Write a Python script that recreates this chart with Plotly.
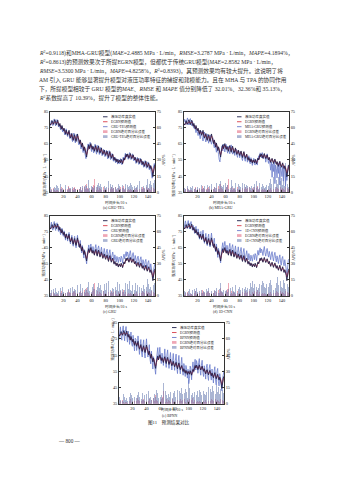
import plotly.graph_objects as go

W, H = 339, 480

time_step = list(range(1, 151))

true_power = [
    77.5, 76.8, 78.2, 79.5, 78.0, 77.2, 79.0, 80.1, 78.4, 77.0,
    78.6, 79.8, 77.5, 76.0, 77.8, 75.4, 74.2, 76.5, 75.0, 73.2,
    74.8, 72.5, 71.0, 73.6, 72.2, 70.4, 71.8, 73.5, 70.2, 68.6,
    69.8, 71.5, 68.4, 67.2, 69.6, 70.8, 68.0, 66.5, 68.8, 71.2,
    69.0, 66.8, 65.2, 67.5, 64.8, 63.0, 65.6, 62.4, 60.8, 63.2,
    61.5, 58.2, 56.8, 60.5, 62.8, 64.5, 62.0, 63.8, 65.2, 63.0,
    61.6, 63.5, 62.2, 60.4, 62.8, 64.0, 61.5, 59.8, 62.4, 63.6,
    61.0, 59.2, 60.8, 62.5, 60.0, 58.4, 59.6, 61.2, 59.0, 57.8,
    59.4, 60.6, 58.2, 56.5, 58.8, 60.2, 57.6, 56.0, 57.4, 58.6,
    56.2, 54.8, 56.6, 55.2, 53.8, 55.6, 54.2, 53.0, 55.0, 54.4,
    53.2, 55.4, 54.0, 52.6, 54.8, 56.2, 55.0, 57.4, 58.6, 57.0,
    58.8, 57.6, 56.0, 57.8, 59.0, 57.2, 55.8, 57.0, 58.2, 56.4,
    55.0, 56.6, 54.8, 53.4, 55.2, 56.0, 54.2, 52.8, 54.4, 55.6,
    53.6, 52.2, 54.0, 52.6, 51.0, 52.8, 54.2, 51.8, 50.4, 52.0,
    53.2, 51.0, 49.6, 51.4, 50.2, 47.8, 44.5, 48.6, 50.8, 52.0,
]

egrn_pred = [
    76.8, 77.2, 77.6, 78.4, 78.2, 77.6, 78.2, 79.0, 78.6, 77.6,
    78.0, 78.8, 77.8, 76.6, 77.0, 75.8, 74.8, 75.6, 75.0, 73.8,
    74.2, 73.0, 71.8, 72.8, 72.4, 71.0, 71.4, 72.6, 70.8, 69.4,
    69.6, 70.8, 69.0, 67.8, 68.8, 70.0, 68.6, 67.2, 68.2, 70.2,
    69.2, 67.4, 66.0, 66.8, 65.2, 63.8, 64.8, 63.0, 61.6, 62.6,
    61.8, 59.4, 58.2, 60.0, 62.0, 63.6, 62.4, 63.2, 64.4, 63.2,
    62.0, 63.0, 62.4, 61.0, 62.2, 63.4, 62.0, 60.6, 61.8, 62.8,
    61.4, 60.0, 60.6, 61.8, 60.4, 59.0, 59.4, 60.6, 59.4, 58.4,
    59.0, 60.0, 58.6, 57.2, 58.2, 59.6, 58.0, 56.8, 57.2, 58.2,
    56.6, 55.4, 56.0, 55.4, 54.4, 55.2, 54.6, 53.6, 54.6, 54.4,
    53.6, 54.8, 54.2, 53.0, 54.2, 55.6, 55.2, 56.8, 58.0, 57.2,
    58.2, 57.6, 56.4, 57.2, 58.4, 57.4, 56.2, 56.8, 57.8, 56.6,
    55.4, 56.0, 55.0, 53.8, 54.8, 55.6, 54.6, 53.4, 54.0, 55.0,
    54.0, 52.8, 53.6, 52.8, 51.6, 52.4, 53.6, 52.2, 50.8, 51.6,
    52.6, 51.4, 50.2, 51.0, 50.4, 48.8, 46.8, 48.2, 50.0, 51.4,
]

egrn_ape = [
    2, 1, 3, 2, 1, 4, 2, 3, 1, 2, 3, 2, 1, 4, 2, 3, 5, 2, 1, 3, 2, 4, 3, 1, 2, 3, 6, 2, 4, 3,
    2, 1, 3, 4, 2, 5, 3, 2, 1, 3, 4, 2, 3, 5, 2, 1, 4, 3, 2, 6, 3, 5, 8, 4, 2, 3, 1, 2, 4, 3,
    5, 2, 7, 12, 4, 3, 2, 5, 3, 2, 4, 6, 3, 2, 1, 3, 5, 2, 4, 3, 2, 3, 6, 4, 2, 1, 3, 5, 2, 3,
    4, 2, 3, 5, 2, 3, 1, 4, 2, 3, 5, 3, 2, 4, 6, 3, 2, 4, 3, 5, 2, 3, 4, 2, 3, 5, 2, 1, 3, 4,
    3, 2, 5, 4, 2, 3, 6, 3, 2, 4, 3, 5, 2, 4, 3, 2, 4, 5, 3, 2, 4, 3, 6, 2, 5, 7, 9, 4, 3, 2,
]

model_names = ["GRU-TPA", "MHA-GRU", "GRU", "1D-CNN", "BPNN"]
captions = ["(a) GRU-TPA", "(b) MHA-GRU", "(c) GRU", "(d) 1D-CNN", "(e) BPNN"]

gru_tpa_pred = [
    75.8, 78.4, 79.6, 77.8, 76.4, 78.8, 80.6, 78.0, 76.2, 78.4,
    80.2, 78.0, 75.6, 77.4, 76.0, 73.8, 76.0, 74.2, 72.4, 74.6,
    73.0, 70.6, 72.8, 74.4, 70.8, 69.6, 72.6, 71.4, 68.4, 69.8,
    71.6, 68.0, 66.4, 69.8, 71.8, 67.4, 65.6, 69.4, 71.0, 68.2,
    66.0, 64.4, 67.2, 64.0, 61.8, 64.6, 61.4, 59.6, 62.8, 60.4,
    57.4, 55.8, 59.6, 62.4, 65.0, 61.6, 63.2, 66.0, 62.4, 60.2,
    63.8, 61.6, 59.4, 62.6, 64.8, 60.8, 58.6, 62.0, 64.2, 60.6,
    58.4, 60.4, 62.8, 59.6, 57.6, 59.0, 61.6, 58.6, 57.0, 59.8,
    61.0, 57.8, 55.6, 58.4, 60.8, 57.2, 55.2, 56.8, 59.0, 55.8,
    54.2, 56.8, 54.6, 53.2, 55.8, 53.8, 52.4, 55.4, 54.8, 52.6,
    55.8, 53.6, 52.0, 55.2, 56.8, 54.6, 57.8, 59.2, 56.6, 58.4,
    57.2, 55.4, 58.2, 59.6, 56.8, 55.2, 57.4, 58.8, 55.8, 54.4,
    56.8, 54.2, 52.8, 55.6, 56.6, 53.8, 52.2, 54.8, 56.2, 53.2,
    51.8, 54.4, 52.0, 50.4, 53.2, 54.6, 51.2, 49.8, 52.6, 53.8,
    50.4, 48.8, 51.8, 49.6, 46.8, 43.6, 49.0, 51.2, 52.8, 50.6,
]
mha_gru_pred = [
    78.6, 80.4, 79.0, 77.0, 79.8, 81.2, 78.6, 76.8, 79.4, 80.8,
    78.2, 76.4, 79.2, 77.6, 74.8, 76.8, 73.6, 72.0, 74.4, 71.8,
    70.2, 73.4, 69.6, 68.2, 71.6, 72.8, 69.0, 66.8, 70.6, 72.4,
    68.4, 66.2, 69.6, 71.2, 67.6, 65.4, 68.8, 70.6, 66.6, 64.8,
    67.6, 68.8, 64.4, 62.6, 66.0, 61.4, 59.8, 63.6, 61.8, 58.6,
    55.2, 53.8, 58.4, 61.6, 63.8, 60.6, 64.8, 62.2, 60.0, 63.6,
    64.6, 60.8, 59.2, 63.4, 61.4, 58.8, 62.6, 64.4, 60.2, 58.6,
    62.0, 60.6, 57.8, 59.8, 61.8, 58.0, 56.6, 59.8, 60.6, 56.4,
    57.8, 59.4, 56.2, 54.6, 57.6, 59.2, 55.4, 54.2, 57.6, 56.8,
    53.6, 55.8, 57.6, 53.4, 52.6, 56.4, 53.0, 51.6, 54.2, 56.0,
    52.4, 51.8, 55.2, 53.4, 51.8, 55.6, 57.6, 55.4, 59.4, 58.4,
    56.2, 59.6, 58.0, 55.8, 58.6, 57.6, 53.6, 56.0, 58.8, 54.8,
    52.8, 56.4, 50.2, 48.6, 53.8, 44.2, 52.6, 47.8, 54.6, 40.2,
    51.8, 49.6, 43.8, 52.4, 46.6, 53.2, 39.4, 50.6, 48.2, 44.6,
    51.4, 41.8, 48.4, 50.2, 38.6, 46.4, 42.2, 49.6, 51.6, 48.8,
]
gru_pred = [
    76.4, 79.8, 81.0, 78.2, 76.0, 79.6, 81.4, 77.8, 75.8, 79.2,
    80.6, 77.4, 75.2, 78.4, 76.6, 73.2, 75.8, 77.2, 73.6, 72.2,
    75.6, 72.4, 69.8, 73.8, 73.4, 69.2, 71.2, 74.6, 70.0, 67.4,
    70.6, 72.8, 67.6, 66.0, 70.4, 72.2, 67.2, 65.0, 69.4, 72.8,
    68.4, 65.6, 67.8, 69.6, 64.2, 61.8, 66.4, 61.2, 58.6, 63.8,
    60.4, 56.2, 55.0, 61.4, 64.6, 66.8, 63.0, 65.6, 67.4, 64.2,
    62.6, 65.8, 64.2, 61.2, 64.8, 67.0, 63.4, 60.8, 64.6, 66.2,
    63.2, 60.4, 62.8, 65.4, 62.0, 59.6, 61.8, 64.6, 61.4, 59.2,
    62.4, 64.2, 60.6, 57.8, 61.8, 63.8, 60.0, 57.6, 60.2, 62.4,
    59.4, 57.0, 60.6, 58.8, 56.2, 59.6, 58.0, 55.8, 59.2, 58.6,
    56.2, 59.8, 58.4, 55.4, 58.8, 61.0, 58.2, 61.4, 62.6, 59.6,
    62.4, 60.8, 58.0, 61.6, 63.2, 59.8, 57.6, 60.4, 62.0, 58.8,
    57.0, 60.2, 57.4, 55.2, 58.6, 59.8, 56.6, 54.4, 57.8, 59.4,
    55.8, 54.0, 57.6, 55.2, 53.0, 56.4, 57.8, 53.6, 52.0, 55.8,
    57.0, 53.2, 51.6, 55.0, 52.8, 49.8, 46.2, 51.4, 54.6, 55.4,
]
cnn_pred = [
    77.0, 80.6, 81.8, 79.4, 77.2, 80.0, 82.0, 79.2, 76.8, 79.8,
    81.4, 78.6, 76.0, 79.0, 77.6, 74.0, 76.6, 78.4, 74.4, 72.8,
    76.8, 73.6, 70.4, 74.6, 75.2, 70.0, 72.0, 76.0, 71.2, 67.8,
    71.4, 74.0, 68.2, 66.4, 71.4, 73.6, 67.8, 65.6, 70.4, 74.2,
    69.8, 66.2, 68.6, 71.0, 65.0, 62.4, 67.4, 62.6, 59.0, 64.6,
    62.0, 57.2, 55.6, 62.6, 66.4, 68.2, 63.6, 66.8, 69.0, 65.0,
    62.8, 66.6, 64.8, 61.4, 65.6, 67.8, 63.4, 60.6, 65.2, 67.0,
    63.6, 60.2, 63.0, 66.2, 62.4, 59.4, 62.0, 65.6, 61.8, 59.0,
    62.8, 65.2, 60.8, 57.6, 62.2, 64.6, 60.2, 57.2, 60.6, 63.2,
    59.8, 57.4, 61.4, 59.6, 56.8, 60.4, 59.0, 56.6, 60.2, 60.8,
    57.6, 61.4, 60.2, 57.0, 60.8, 63.4, 60.4, 63.8, 65.0, 61.8,
    64.2, 62.8, 60.2, 63.6, 65.8, 62.0, 59.8, 62.8, 64.6, 61.0,
    59.2, 62.8, 60.0, 57.6, 61.2, 62.6, 59.0, 56.8, 60.4, 62.2,
    58.4, 56.2, 60.0, 57.8, 55.2, 58.8, 60.6, 56.0, 54.2, 58.4,
    59.6, 55.6, 53.8, 57.6, 55.2, 51.8, 47.6, 53.0, 57.2, 58.0,
]
bpnn_pred = [
    74.6, 80.2, 82.4, 76.8, 74.2, 80.6, 83.0, 77.6, 73.8, 79.6,
    82.6, 76.4, 73.0, 79.8, 77.2, 71.6, 75.8, 79.2, 72.0, 70.4,
    77.2, 72.0, 67.6, 75.4, 74.8, 67.8, 70.6, 76.8, 69.4, 65.4,
    70.8, 74.6, 66.2, 63.8, 71.2, 74.4, 66.4, 63.2, 70.2, 75.0,
    68.6, 63.8, 66.6, 71.4, 62.6, 59.6, 67.4, 60.2, 56.4, 64.0,
    59.6, 54.0, 53.2, 61.8, 67.0, 69.6, 62.0, 66.4, 69.8, 63.4,
    59.8, 66.2, 63.8, 58.6, 65.4, 68.8, 61.6, 57.4, 65.0, 68.2,
    61.4, 56.8, 62.4, 66.6, 59.6, 55.8, 61.2, 66.0, 59.4, 55.6,
    61.6, 65.6, 57.8, 53.6, 61.0, 64.8, 57.2, 53.4, 58.8, 63.6,
    56.8, 52.6, 59.8, 57.6, 51.8, 58.6, 56.4, 50.8, 56.2, 47.4,
    50.6, 58.2, 56.4, 49.8, 57.2, 60.8, 54.4, 60.6, 62.4, 55.8,
    61.6, 59.2, 53.8, 60.4, 62.8, 56.0, 52.6, 58.8, 61.8, 54.6,
    51.8, 58.4, 54.0, 50.2, 57.6, 59.4, 52.0, 49.4, 56.8, 59.2,
    52.2, 49.6, 56.4, 52.0, 47.8, 55.2, 57.8, 49.6, 46.6, 54.8,
    56.8, 48.8, 46.0, 53.6, 49.0, 44.6, 43.0, 50.2, 53.8, 55.6,
]

gru_tpa_ape = [
    3, 5, 2, 4, 6, 3, 5, 2, 4, 7, 3, 6, 4, 2, 5, 8, 3, 6, 4, 2, 5, 3, 7, 4, 6, 2, 5, 8, 3, 4,
    6, 3, 5, 2, 7, 4, 3, 6, 5, 2, 4, 7, 3, 5, 8, 2, 6, 4, 9, 5, 7, 4, 6, 3, 5, 11, 4, 7, 3, 6,
    5, 8, 4, 6, 3, 13, 5, 7, 4, 9, 6, 3, 8, 5, 4, 7, 2, 6, 9, 4, 5, 7, 3, 10, 6, 4, 8, 5, 3, 7,
    4, 6, 9, 5, 3, 7, 4, 8, 5, 6, 3, 9, 5, 7, 4, 6, 3, 8, 5, 4, 7, 5, 3, 6, 9, 4, 7, 5, 3, 8,
    6, 4, 9, 5, 7, 3, 6, 10, 4, 7, 5, 3, 8, 6, 4, 9, 5, 7, 12, 6, 4, 8, 5, 10, 7, 14, 6, 9, 11, 8,
]
mha_gru_ape = [
    2, 4, 3, 5, 2, 6, 3, 4, 2, 5, 3, 4, 6, 2, 5, 3, 4, 7, 2, 5, 6, 3, 4, 5, 2, 7, 3, 5, 4, 6,
    3, 5, 2, 7, 4, 3, 6, 5, 2, 8, 4, 6, 3, 5, 7, 4, 9, 5, 6, 3, 8, 22, 10, 6, 4, 5, 7, 3, 6, 9,
    5, 4, 7, 3, 6, 8, 4, 11, 5, 6, 3, 7, 4, 9, 6, 5, 3, 8, 4, 6, 5, 7, 4, 9, 3, 6, 8, 5, 4, 7,
    6, 3, 8, 5, 4, 9, 6, 3, 7, 5, 8, 4, 6, 10, 5, 7, 3, 9, 6, 4, 5, 8, 12, 6, 4, 9, 5, 7, 3, 8,
    6, 9, 4, 12, 8, 25, 6, 14, 7, 28, 5, 11, 20, 8, 14, 6, 29, 10, 13, 18, 7, 23, 12, 6, 27, 9, 16, 8, 5, 10,
]
gru_ape = [
    4, 3, 6, 2, 5, 7, 3, 5, 8, 4, 6, 3, 5, 7, 4, 8, 3, 6, 9, 4, 5, 7, 3, 9, 6, 4, 7, 5, 3, 8,
    6, 4, 9, 5, 3, 7, 6, 4, 8, 10, 5, 7, 4, 11, 6, 3, 8, 5, 12, 4, 7, 10, 6, 9, 4, 13, 5, 8, 6, 4,
    9, 5, 11, 7, 4, 15, 6, 9, 5, 12, 8, 4, 10, 6, 13, 7, 5, 11, 8, 6, 12, 9, 5, 14, 7, 10, 6, 4, 11, 8,
    7, 5, 12, 9, 6, 10, 13, 5, 8, 11, 6, 9, 15, 7, 4, 10, 6, 12, 8, 5, 11, 7, 9, 14, 6, 8, 5, 10, 7, 9,
    6, 12, 8, 5, 10, 7, 13, 9, 6, 11, 8, 5, 14, 10, 7, 12, 6, 9, 16, 8, 11, 7, 13, 9, 6, 15, 20, 10, 12, 9,
]
cnn_ape = [
    3, 5, 4, 2, 6, 3, 5, 4, 7, 3, 5, 2, 6, 4, 3, 7, 5, 3, 8, 4, 6, 3, 5, 7, 4, 6, 3, 8, 5, 4,
    6, 3, 7, 5, 4, 8, 3, 6, 9, 5, 4, 7, 3, 6, 10, 5, 8, 4, 6, 3, 7, 9, 12, 5, 8, 4, 6, 10, 7, 5,
    6, 9, 4, 7, 11, 5, 8, 3, 6, 9, 5, 7, 4, 10, 6, 8, 3, 7, 5, 9, 6, 10, 4, 8, 12, 5, 7, 9, 4, 6,
    8, 5, 10, 7, 12, 6, 9, 14, 5, 8, 11, 7, 13, 9, 6, 15, 8, 11, 17, 7, 10, 14, 6, 12, 9, 16, 8, 11, 7, 13,
    9, 12, 7, 15, 10, 8, 13, 6, 11, 16, 8, 12, 7, 18, 10, 13, 6, 14, 9, 11, 8, 15, 10, 12, 7, 16, 20, 11, 9, 13,
]
bpnn_ape = [
    5, 7, 4, 8, 6, 3, 9, 5, 7, 4, 8, 6, 3, 9, 5, 7, 10, 4, 8, 6, 5, 9, 7, 4, 10, 6, 8, 5, 11, 7,
    6, 9, 5, 10, 7, 4, 8, 11, 6, 9, 5, 8, 12, 6, 9, 7, 4, 10, 8, 6, 9, 11, 7, 13, 8, 10, 6, 9, 12, 7,
    8, 11, 6, 20, 9, 7, 12, 8, 10, 6, 9, 13, 7, 11, 8, 14, 6, 10, 9, 12, 7, 11, 8, 13, 9, 6, 12, 10, 8, 15,
    9, 12, 7, 10, 14, 8, 11, 6, 13, 22, 15, 9, 12, 8, 10, 13, 7, 11, 9, 14, 8, 12, 10, 7, 13, 9, 11, 8, 14, 10,
    12, 9, 15, 8, 11, 13, 7, 16, 10, 9, 14, 11, 8, 17, 12, 10, 15, 9, 18, 13, 11, 16, 12, 9, 14, 20, 24, 13, 10, 12,
]

model_preds = [gru_tpa_pred, mha_gru_pred, gru_pred, cnn_pred, bpnn_pred]
model_apes = [gru_tpa_ape, mha_gru_ape, gru_ape, cnn_ape, bpnn_ape]

x_ticks = [20, 40, 60, 80, 100, 120, 140]
left_ticks = [35, 45, 55, 65, 75, 85]
right_ticks = [0, 15, 30, 45, 60, 75]

paragraph = [
    "<i>R</i><sup>2</sup>=0.9118)和MHA-GRU模型(<i>MAE</i>=2.4885 MPa · L/min，<i>RMSE</i>=3.2787 MPa · L/min，<i>MAPE</i>=4.1894%，",
    "<i>R</i><sup>2</sup>=0.8613)的预测效果次于所提EGRN模型，但都优于传统GRU模型(<i>MAE</i>=2.8582 MPa · L/min，",
    "<i>RMSE</i>=3.5300 MPa · L/min，<i>MAPE</i>=4.8258%，<i>R</i><sup>2</sup>=0.8393)，其预测效果均有较大提升。这说明了将",
    "AM 引入 GRU 能够显著提升模型对液压功率特征的捕捉和建模能力。且在 MHA 与 TPA 的协同作用",
    "下，所提模型相较于 GRU 模型的<i>MAE</i>、<i>RMSE</i> 和 <i>MAPE</i> 值分别降低了 32.01%、32.36%和 35.13%，",
    "<i>R</i><sup>2</sup>系数提高了 10.39%，提升了模型的整体性能。",
]

# ---------- styling / layout ----------
FONT = "Liberation Serif, Noto Sans CJK SC"
C_TRUE = "#1c1e4a"
C_EGRN = "#d83c48"
C_MODEL = "#6a7bcc"
C_EGRN_BAR = "rgba(232,130,150,0.7)"
C_MODEL_BAR = "rgba(100,120,175,0.55)"

# panel boxes in pixels (left, top, right, bottom)
panels = [(50, 111, 155, 192), (184, 111, 289, 192), (50, 216, 155, 297),
          (184, 216, 289, 297), (119, 324, 224, 406)]


def fx(px):
    return px / W


def fy(py):
    return 1 - py / H


fig = go.Figure()
layout = dict(
    width=W, height=H, margin=dict(l=0, r=0, t=0, b=0),
    paper_bgcolor="white", plot_bgcolor="white", showlegend=False,
    barmode="overlay", bargap=0, font=dict(family=FONT, size=5, color="#222"),
)
annotations = []
shapes = []

axis_common = dict(showgrid=False, zeroline=False, showline=True, linecolor="#333",
                   linewidth=0.6, ticks="inside", ticklen=1.8, tickwidth=0.5,
                   tickcolor="#333", tickfont=dict(size=4.4, family=FONT, color="#222"))

for i, (l, t, r, b) in enumerate(panels):
    xid = "x" if i == 0 else f"x{i + 1}"
    yr = "y" if i == 0 else f"y{2 * i + 1}"
    yl = f"y{2 * i + 2}"
    xkey = "xaxis" if i == 0 else f"xaxis{i + 1}"
    yrkey = "yaxis" if i == 0 else f"yaxis{2 * i + 1}"
    ylkey = f"yaxis{2 * i + 2}"

    layout[xkey] = dict(axis_common, domain=[fx(l), fx(r)], anchor=yr, range=[1, 150],
                        tickvals=x_ticks, mirror=True)
    layout[yrkey] = dict(axis_common, domain=[fy(b), fy(t)], anchor=xid, side="right",
                         range=[0, 75], tickvals=right_ticks)
    layout[ylkey] = dict(axis_common, overlaying=yr, anchor=xid, side="left",
                         range=[35, 85], tickvals=left_ticks)

    name = model_names[i]
    fig.add_trace(go.Bar(x=time_step, y=egrn_ape, marker=dict(color=C_EGRN_BAR, line=dict(width=0)),
                         width=0.8, xaxis=xid, yaxis=yr, name="EGRN绝对百分比误差"))
    fig.add_trace(go.Bar(x=time_step, y=model_apes[i], marker=dict(color=C_MODEL_BAR, line=dict(width=0)),
                         width=0.8, xaxis=xid, yaxis=yr, name=name + "绝对百分比误差"))
    fig.add_trace(go.Scatter(x=time_step, y=model_preds[i], mode="lines",
                             line=dict(color=C_MODEL, width=0.8), xaxis=xid, yaxis=yl))
    fig.add_trace(go.Scatter(x=time_step, y=egrn_pred, mode="lines",
                             line=dict(color=C_EGRN, width=0.8), xaxis=xid, yaxis=yl))
    fig.add_trace(go.Scatter(x=time_step, y=true_power, mode="lines",
                             line=dict(color=C_TRUE, width=0.85), xaxis=xid, yaxis=yl))

    cx = (l + r) / 2
    cy = (t + b) / 2
    # axis titles
    annotations.append(dict(x=fx(l - 10.5), y=fy(cy), xref="paper", yref="paper",
                            text="液压功率/(MPa · L · min<sup>-1</sup>)", textangle=-90,
                            showarrow=False, font=dict(size=3.8)))
    annotations.append(dict(x=fx(r + 9), y=fy(cy), xref="paper", yref="paper",
                            text="<i>APE</i>/%", textangle=-90, showarrow=False,
                            font=dict(size=3.8)))
    annotations.append(dict(x=fx(cx), y=fy(b + 10.5), xref="paper", yref="paper",
                            text="时间步长/10 s", showarrow=False, font=dict(size=3.7)))
    annotations.append(dict(x=fx(cx - 2), y=fy(b + 16.5), xref="paper", yref="paper",
                            text=captions[i], showarrow=False, font=dict(size=3.8)))

    # legend (manual, tiny)
    labels = ["液压功率真实值", "EGRN预测值", name + "预测值",
              "EGRN绝对百分比误差", name + "绝对百分比误差"]
    kinds = [("line", C_TRUE), ("line", C_EGRN), ("line", C_MODEL),
             ("bar", C_EGRN_BAR), ("bar", C_MODEL_BAR)]
    lx = l + 53
    for k, (lab, (kind, col)) in enumerate(zip(labels, kinds)):
        ly = t + 5 + 5 * k
        if kind == "line":
            shapes.append(dict(type="line", xref="paper", yref="paper",
                               x0=fx(lx), x1=fx(lx + 4.5), y0=fy(ly), y1=fy(ly),
                               line=dict(color=col, width=0.9)))
        else:
            shapes.append(dict(type="rect", xref="paper", yref="paper",
                               x0=fx(lx), x1=fx(lx + 4.5), y0=fy(ly - 1.4), y1=fy(ly + 1.4),
                               fillcolor=col, line=dict(width=0)))
        annotations.append(dict(x=fx(lx + 5.5), y=fy(ly), xref="paper", yref="paper",
                                xanchor="left", yanchor="middle", text=lab, showarrow=False,
                                font=dict(size=3.5)))

# paragraph text
for j, line in enumerate(paragraph):
    annotations.append(dict(x=fx(37), y=fy(51.5 + 9.2 * j), xref="paper", yref="paper",
                            xanchor="left", yanchor="middle", text=line, showarrow=False,
                            font=dict(size=5.7, color="#333")))

annotations.append(dict(x=fx(169), y=fy(430), xref="paper", yref="paper",
                        text="图11　预测结果对比", showarrow=False, font=dict(size=4.6)))
annotations.append(dict(x=fx(56), y=fy(449), xref="paper", yref="paper",
                        text="— 800 —", showarrow=False, font=dict(size=5.2)))

layout["annotations"] = annotations
layout["shapes"] = shapes
fig.update_layout(**layout)
fig.write_html("out.html")
